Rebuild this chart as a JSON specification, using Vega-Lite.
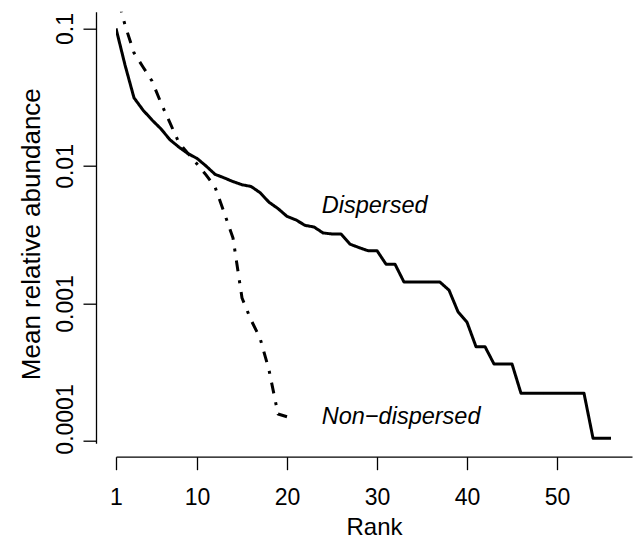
{
  "$schema": "https://vega.github.io/schema/vega-lite/v6.json",
  "width": 516,
  "height": 431.6,
  "autosize": {"type": "none"},
  "padding": {"left": 116, "top": 11.7, "right": 1, "bottom": 104.7},
  "background": "white",
  "config": {
    "view": {"stroke": null},
    "font": "Liberation Sans",
    "axis": {
      "domainColor": "black", "tickColor": "black", "labelColor": "black", "titleColor": "black",
      "domainWidth": 1.3, "tickWidth": 1.3, "grid": false,
      "labelFont": "Liberation Sans", "titleFont": "Liberation Sans",
      "titleFontWeight": "normal", "labelFontSize": 23, "titleFontSize": 24
    }
  },
  "datasets": {
    "curves": [
      {"rank": 1, "abundance": 0.1, "group": "Dispersed"},
      {"rank": 2, "abundance": 0.0543, "group": "Dispersed"},
      {"rank": 3, "abundance": 0.0313, "group": "Dispersed"},
      {"rank": 4, "abundance": 0.0255, "group": "Dispersed"},
      {"rank": 5, "abundance": 0.0216, "group": "Dispersed"},
      {"rank": 6, "abundance": 0.0186, "group": "Dispersed"},
      {"rank": 7, "abundance": 0.0155, "group": "Dispersed"},
      {"rank": 8, "abundance": 0.0137, "group": "Dispersed"},
      {"rank": 9, "abundance": 0.0123, "group": "Dispersed"},
      {"rank": 10, "abundance": 0.01135, "group": "Dispersed"},
      {"rank": 11, "abundance": 0.01, "group": "Dispersed"},
      {"rank": 12, "abundance": 0.0087, "group": "Dispersed"},
      {"rank": 13, "abundance": 0.0082, "group": "Dispersed"},
      {"rank": 14, "abundance": 0.0077, "group": "Dispersed"},
      {"rank": 15, "abundance": 0.0073, "group": "Dispersed"},
      {"rank": 16, "abundance": 0.0071, "group": "Dispersed"},
      {"rank": 17, "abundance": 0.0064, "group": "Dispersed"},
      {"rank": 18, "abundance": 0.00545, "group": "Dispersed"},
      {"rank": 19, "abundance": 0.0049, "group": "Dispersed"},
      {"rank": 20, "abundance": 0.0043, "group": "Dispersed"},
      {"rank": 21, "abundance": 0.00405, "group": "Dispersed"},
      {"rank": 22, "abundance": 0.0037, "group": "Dispersed"},
      {"rank": 23, "abundance": 0.0036, "group": "Dispersed"},
      {"rank": 24, "abundance": 0.00326, "group": "Dispersed"},
      {"rank": 25, "abundance": 0.0032, "group": "Dispersed"},
      {"rank": 26, "abundance": 0.0032, "group": "Dispersed"},
      {"rank": 27, "abundance": 0.0027, "group": "Dispersed"},
      {"rank": 28, "abundance": 0.00255, "group": "Dispersed"},
      {"rank": 29, "abundance": 0.00242, "group": "Dispersed"},
      {"rank": 30, "abundance": 0.00242, "group": "Dispersed"},
      {"rank": 31, "abundance": 0.00193, "group": "Dispersed"},
      {"rank": 32, "abundance": 0.00193, "group": "Dispersed"},
      {"rank": 33, "abundance": 0.00143, "group": "Dispersed"},
      {"rank": 34, "abundance": 0.00143, "group": "Dispersed"},
      {"rank": 35, "abundance": 0.00143, "group": "Dispersed"},
      {"rank": 36, "abundance": 0.00143, "group": "Dispersed"},
      {"rank": 37, "abundance": 0.00143, "group": "Dispersed"},
      {"rank": 38, "abundance": 0.00125, "group": "Dispersed"},
      {"rank": 39, "abundance": 0.00087, "group": "Dispersed"},
      {"rank": 40, "abundance": 0.00073, "group": "Dispersed"},
      {"rank": 41, "abundance": 0.000485, "group": "Dispersed"},
      {"rank": 42, "abundance": 0.000485, "group": "Dispersed"},
      {"rank": 43, "abundance": 0.000363, "group": "Dispersed"},
      {"rank": 44, "abundance": 0.000363, "group": "Dispersed"},
      {"rank": 45, "abundance": 0.000363, "group": "Dispersed"},
      {"rank": 46, "abundance": 0.000222, "group": "Dispersed"},
      {"rank": 47, "abundance": 0.000222, "group": "Dispersed"},
      {"rank": 48, "abundance": 0.000222, "group": "Dispersed"},
      {"rank": 49, "abundance": 0.000222, "group": "Dispersed"},
      {"rank": 50, "abundance": 0.000222, "group": "Dispersed"},
      {"rank": 51, "abundance": 0.000222, "group": "Dispersed"},
      {"rank": 52, "abundance": 0.000222, "group": "Dispersed"},
      {"rank": 53, "abundance": 0.000222, "group": "Dispersed"},
      {"rank": 54, "abundance": 0.0001047, "group": "Dispersed"},
      {"rank": 55, "abundance": 0.0001047, "group": "Dispersed"},
      {"rank": 56, "abundance": 0.0001047, "group": "Dispersed"},
      {"rank": 1, "abundance": 0.19, "group": "Non-dispersed"},
      {"rank": 2, "abundance": 0.106, "group": "Non-dispersed"},
      {"rank": 3, "abundance": 0.0664, "group": "Non-dispersed"},
      {"rank": 4, "abundance": 0.0525, "group": "Non-dispersed"},
      {"rank": 5, "abundance": 0.0415, "group": "Non-dispersed"},
      {"rank": 6, "abundance": 0.0287, "group": "Non-dispersed"},
      {"rank": 7, "abundance": 0.02055, "group": "Non-dispersed"},
      {"rank": 8, "abundance": 0.0147, "group": "Non-dispersed"},
      {"rank": 9, "abundance": 0.01233, "group": "Non-dispersed"},
      {"rank": 10, "abundance": 0.01035, "group": "Non-dispersed"},
      {"rank": 11, "abundance": 0.00861, "group": "Non-dispersed"},
      {"rank": 12, "abundance": 0.00704, "group": "Non-dispersed"},
      {"rank": 13, "abundance": 0.00462, "group": "Non-dispersed"},
      {"rank": 14, "abundance": 0.00299, "group": "Non-dispersed"},
      {"rank": 15, "abundance": 0.001096, "group": "Non-dispersed"},
      {"rank": 16, "abundance": 0.000759, "group": "Non-dispersed"},
      {"rank": 17, "abundance": 0.000561, "group": "Non-dispersed"},
      {"rank": 18, "abundance": 0.000328, "group": "Non-dispersed"},
      {"rank": 19, "abundance": 0.000157, "group": "Non-dispersed"},
      {"rank": 20, "abundance": 0.00015, "group": "Non-dispersed"}
    ],
    "labels": [
      {"rank": 23.86, "abundance": 0.00453, "text": "Dispersed"},
      {"rank": 23.86, "abundance": 0.000133, "text": "Non\u2212dispersed"}
    ]
  },
  "layer": [
    {
      "data": {"name": "curves"},
      "mark": {"type": "line", "color": "black", "strokeWidth": 3, "clip": true, "strokeCap": "butt", "strokeJoin": "round"},
      "encoding": {
        "x": {
          "field": "rank", "type": "quantitative",
          "scale": {"domain": [1, 58.33], "nice": false, "zero": false},
          "axis": {"values": [1, 10, 20, 30, 40, 50], "title": "Rank", "offset": 13.4, "tickSize": 13, "labelPadding": 17, "titleBaseline": "alphabetic", "titleY": 78, "labelFlush": false}
        },
        "y": {
          "field": "abundance", "type": "quantitative",
          "scale": {"type": "log", "domain": [0.0000962, 0.1324], "nice": false, "zero": false},
          "axis": {"values": [0.0001, 0.001, 0.01, 0.1], "format": "~g", "title": "Mean relative abundance", "offset": 20, "tickSize": 13, "labelAngle": -90, "labelAlign": "center", "labelBaseline": "alphabetic", "labelPadding": 11, "labelOffset": {"condition": {"test": "datum.value < 0.0005", "value": -22}, "value": 0}, "titleAngle": -90, "titleAlign": "center", "titleBaseline": "alphabetic", "titleX": -57, "titleY": 222, "titleFontSize": 26, "labelFlush": false}
        },
        "detail": {"field": "group"},
        "strokeDash": {
          "field": "group", "type": "nominal",
          "scale": {"domain": ["Dispersed", "Non-dispersed"], "range": [[1, 0], [3, 9, 11, 9]]},
          "legend": null
        }
      }
    },
    {
      "data": {"name": "labels"},
      "mark": {"type": "text", "align": "left", "baseline": "alphabetic", "fontStyle": "italic", "fontSize": 23.5, "font": "Liberation Sans", "color": "black"},
      "encoding": {
        "x": {"field": "rank", "type": "quantitative"},
        "y": {"field": "abundance", "type": "quantitative"},
        "text": {"field": "text"}
      }
    }
  ]
}
